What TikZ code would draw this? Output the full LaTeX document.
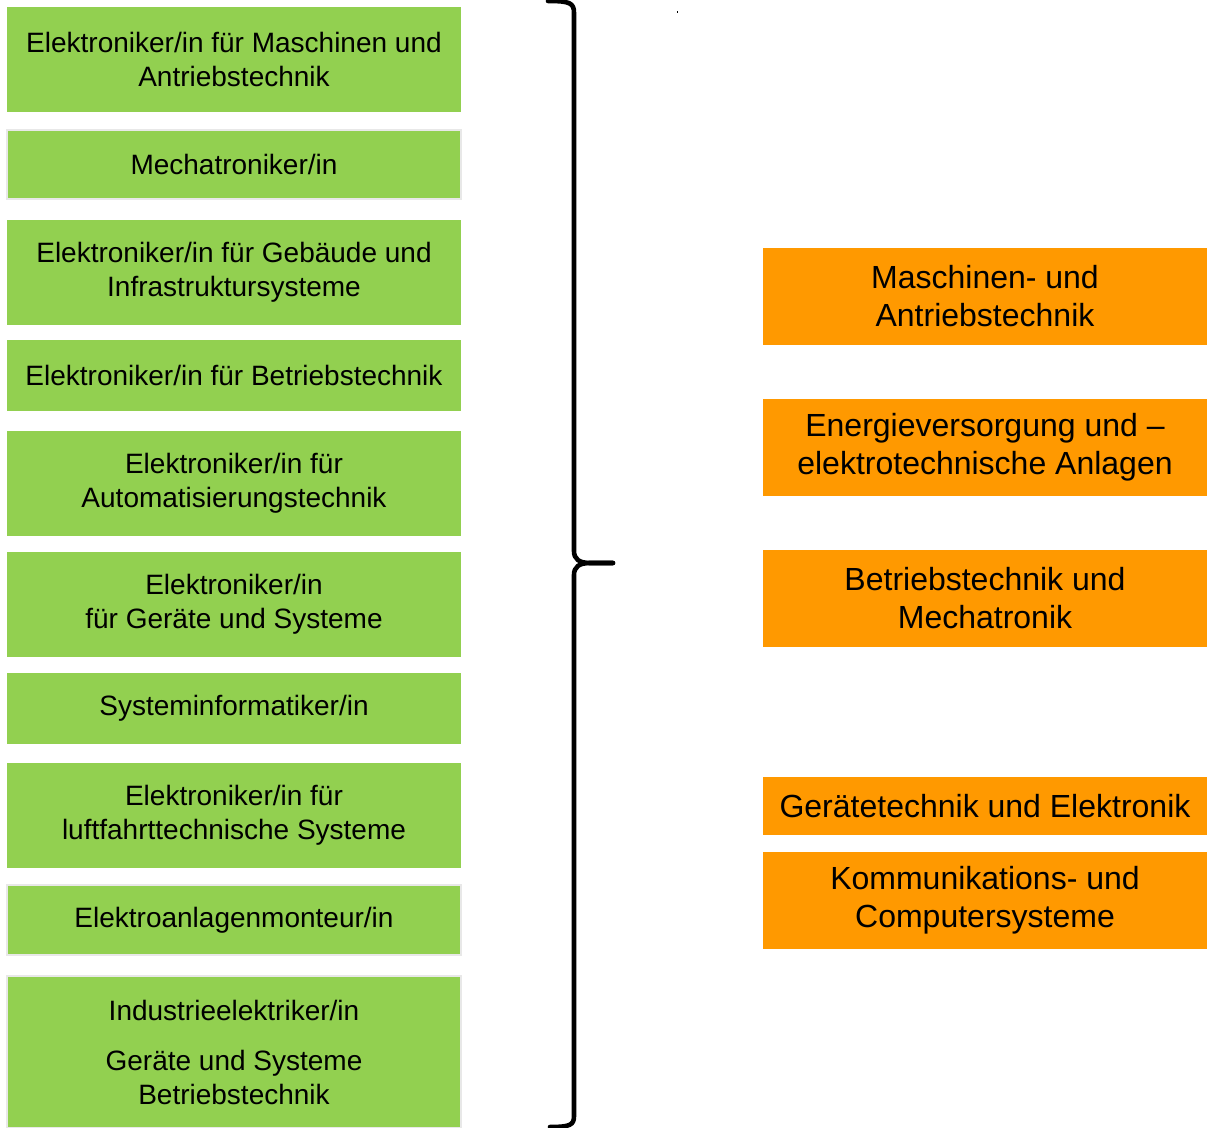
\documentclass[tikz,border=0pt]{standalone}
\usepackage{fontspec}
\setmainfont{Liberation Sans}
\usepackage{tikz}
\usetikzlibrary{positioning}
\definecolor{berufgreen}{HTML}{92D050}
\definecolor{feldorange}{HTML}{FF9900}
\tikzset{
  beruf/.style={fill=berufgreen,minimum width=227pt,inner sep=0pt,
    align=center,font=\fontsize{14}{17}\selectfont},
  berufrim/.style={beruf,draw=black!9,line width=0.6pt},
  feld/.style={fill=feldorange,minimum width=222pt,inner sep=0pt,
    align=center,font=\fontsize{16}{19}\selectfont},
  klammer/.style={line width=2.3pt,line join=round,line cap=round},
}

\begin{document}
\begin{tikzpicture}[x=0.5pt,y=-0.5pt]
  \useasboundingbox (0,0) rectangle (1207,1128);

  % Ausbildungsberufe
  \node[beruf,minimum height=52.5pt] (maschinen) at (234,59.5)
    {Elektroniker/in für Maschinen und\\Antriebstechnik};
  \node[berufrim,minimum height=34.5pt] (mecha) at (234,164.5)
    {Mechatroniker/in};
  \node[beruf,minimum height=52.5pt] (gebaeude) at (234,272.5)
    {Elektroniker/in für Gebäude und\\Infrastruktursysteme};
  \node[beruf,minimum height=35.5pt] (betrieb) at (234,375.5)
    {Elektroniker/in für Betriebstechnik};
  \node[beruf,minimum height=52.5pt] (auto) at (234,483.5)
    {Elektroniker/in für\\Automatisierungstechnik};
  \node[beruf,minimum height=52.5pt] (geraete) at (234,604.5)
    {Elektroniker/in\\für Geräte und Systeme};
  \node[beruf,minimum height=35.5pt] (sysinf) at (234,708.5)
    {Systeminformatiker/in};
  \node[beruf,minimum height=52.5pt] (luft) at (234,815.5)
    {Elektroniker/in für\\luftfahrttechnische Systeme};
  \node[berufrim,minimum height=35pt] (monteur) at (234,920)
    {Elektroanlagenmonteur/in};
  \node[berufrim,minimum height=76pt] (industrie) at (234,1052)
    {Industrieelektriker/in\\[8pt]Geräte und Systeme\\Betriebstechnik};

  % geschweifte Klammer
  \coordinate (ktop) at (548,1);
  \coordinate (kspitze) at (613,563);
  \coordinate (kfuss) at (550,1127);
  \draw[klammer] (ktop) .. controls (570,1) and (574,3) .. (574,13)
    -- (574,551) .. controls (574,559) and (579,563) .. (590,563) -- (kspitze);
  \draw[klammer] (kspitze) -- (590,563) .. controls (579,563) and (574,567) .. (574,575)
    -- (574,1116) .. controls (574,1125) and (570,1127) .. (kfuss);
  \fill (676.5,11) rectangle (677.5,13);

  % Berufsfelder
  \node[feld,minimum height=48.5pt] (antrieb) at (985,296.5)
    {Maschinen- und\\Antriebstechnik};
  \node[feld,minimum height=48.5pt] (energie) at (985,447.5)
    {Energieversorgung und –\\elektrotechnische Anlagen};
  \node[feld,minimum height=48.5pt] (betriebmecha) at (985,598.5)
    {Betriebstechnik und\\Mechatronik};
  \node[feld,minimum height=29pt] (elektronik) at (985,806)
    {Gerätetechnik und Elektronik};
  \node[feld,minimum height=48.5pt] (komm) at (985,900.5)
    {Kommunikations- und\\Computersysteme};
\end{tikzpicture}
\end{document}
